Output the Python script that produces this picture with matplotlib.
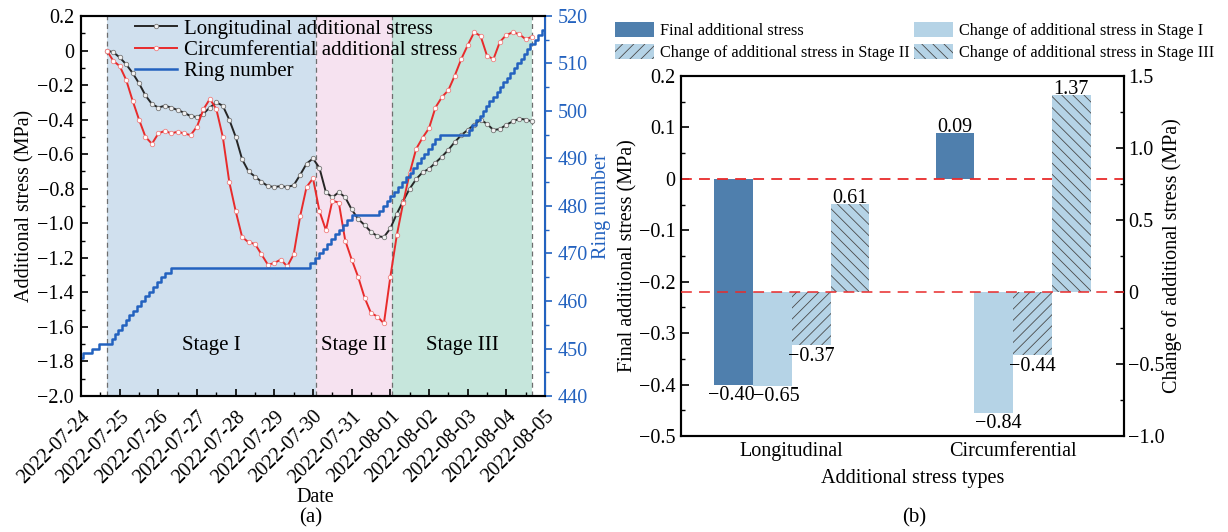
import numpy as np
import pandas as pd
import matplotlib
matplotlib.use("Agg")
import matplotlib.pyplot as plt
import matplotlib.dates as mdates
from matplotlib.ticker import MultipleLocator, FuncFormatter
from matplotlib.patches import Patch
from matplotlib.transforms import blended_transform_factory

plt.rcParams['font.family'] = ['Liberation Serif', 'DejaVu Serif']
plt.rcParams['font.size'] = 14.5
plt.rcParams['hatch.linewidth'] = 0.6

# ---- (a) monitoring time series, sampled every 4 h from 2022-07-24 16:00 ----
longitudinal = [0.00, -0.01, -0.04, -0.08, -0.13, -0.19, -0.26, -0.31, -0.33, -0.32,
                -0.33, -0.345, -0.36, -0.38, -0.385, -0.365, -0.33, -0.30, -0.32, -0.40,
                -0.50, -0.63, -0.70, -0.73, -0.76, -0.785, -0.79, -0.785, -0.79, -0.78,
                -0.72, -0.655, -0.625, -0.68, -0.82, -0.85, -0.82, -0.85, -0.92, -0.975,
                -1.01, -1.05, -1.075, -1.08, -1.03, -0.945, -0.87, -0.80, -0.745, -0.705,
                -0.685, -0.65, -0.615, -0.575, -0.53, -0.49, -0.46, -0.43, -0.40, -0.425,
                -0.46, -0.455, -0.43, -0.41, -0.395, -0.40, -0.41]
circumferential = [0.00, -0.06, -0.09, -0.17, -0.29, -0.40, -0.50, -0.54, -0.48, -0.465,
                   -0.48, -0.47, -0.48, -0.49, -0.44, -0.34, -0.28, -0.34, -0.50, -0.76,
                   -0.93, -1.08, -1.11, -1.12, -1.18, -1.24, -1.23, -1.21, -1.25, -1.18,
                   -0.96, -0.79, -0.74, -0.93, -1.04, -0.87, -0.88, -1.10, -1.21, -1.31,
                   -1.43, -1.52, -1.54, -1.58, -1.31, -1.07, -0.88, -0.71, -0.57, -0.505,
                   -0.45, -0.33, -0.27, -0.23, -0.145, -0.05, 0.03, 0.105, 0.085, -0.03,
                   -0.05, 0.05, 0.09, 0.105, 0.095, 0.065, 0.08]

# ring number: hours since 2022-07-24 00:00 at which each new ring was reached
ring_hours = [0, 1, 7, 11,
              19, 21, 23, 25.5, 28, 30, 32.5, 35, 37.5, 40, 42, 44.5, 47, 49.5, 52, 56,
              142, 145, 147.5, 150, 152.5, 155, 157.5, 160, 162.5, 165, 168,
              185, 187.5, 190, 192, 194.5, 197, 199, 201.5, 204, 206, 208.5, 211, 213,
              215.5, 218, 220, 223,
              241, 243, 245, 247.5, 249.5, 251.5, 253.5, 256, 258, 260, 262, 264.5,
              266.5, 268.5, 270.5, 273, 275, 277, 279, 281.5, 283.5, 286, 288]
ring_values = [448, 449, 450, 451,
               452, 453, 454, 455, 456, 457, 458, 459, 460, 461, 462, 463, 464, 465, 466, 467,
               468, 469, 470, 471, 472, 473, 474, 475, 476, 477, 478,
               479, 480, 481, 482, 483, 484, 485, 486, 487, 488, 489, 490, 491,
               492, 493, 494, 495,
               496, 497, 498, 499, 500, 501, 502, 503, 504, 505, 506, 507,
               508, 509, 510, 511, 512, 513, 514, 515, 516, 517, 517]

stage_names = ['Stage I', 'Stage II', 'Stage III']
stage_edges = ['2022-07-24 16:00', '2022-07-30 02:00', '2022-08-01 01:00', '2022-08-04 16:00']
stage_colors = ['#d0e0ee', '#f6e2f0', '#c6e6dc']

# ---- (b) additional stress summary ----
stress_types = ['Longitudinal', 'Circumferential']
final_stress = [-0.40, 0.09]
change_stage1 = [-0.65, -0.84]
change_stage2 = [-0.37, -0.44]
change_stage3 = [0.61, 1.37]

BLUE = '#2362bf'
RED = '#e82b2b'
DARK_BAR = '#4f7fad'
LIGHT_BAR = '#b5d3e6'


def one_decimal(v, pos):
    if abs(v) < 1e-9:
        return '0'
    return f'{v:.1f}'.replace('-', '\u2212')


fig = plt.figure(figsize=(12.28, 5.32), dpi=100)

# ================= (a) =================
ax = fig.add_axes([0.066, 0.2556, 0.3778, 0.7144])
axr = ax.twinx()

t_stress = pd.date_range('2022-07-24 16:00', periods=len(longitudinal), freq='4h')
t_ring = pd.Timestamp('2022-07-24') + pd.to_timedelta(ring_hours, unit='h')
edges = pd.to_datetime(stage_edges)

for i, name in enumerate(stage_names):
    ax.axvspan(edges[i], edges[i + 1], color=stage_colors[i], lw=0, zorder=0)
    mid = edges[i] + (edges[i + 1] - edges[i]) / 2
    ax.text(mid, -1.71, name, ha='center', va='center', fontsize=15)
for e in edges:
    ax.axvline(e, color='#6e6e6e', ls=(0, (4, 3)), lw=0.9, zorder=1)

l1, = ax.plot(t_stress, longitudinal, color='#262626', lw=1.4, marker='o', ms=3.2,
              mfc='#f2f2f2', mec='#777777', mew=0.6, zorder=3,
              label='Longitudinal additional stress')
l2, = ax.plot(t_stress, circumferential, color=RED, lw=1.4, marker='o', ms=3.2,
              mfc='white', mec='#f08080', mew=0.6, zorder=3,
              label='Circumferential additional stress')
l3, = axr.step(t_ring, ring_values, where='post', color=BLUE, lw=1.8, label='Ring number')

ax.set_xlim(pd.Timestamp('2022-07-24'), pd.Timestamp('2022-08-05'))
ax.set_ylim(-2.0, 0.2)
axr.set_ylim(440, 520)

ax.xaxis.set_major_locator(mdates.DayLocator())
ax.xaxis.set_minor_locator(mdates.HourLocator(byhour=[12]))
ax.xaxis.set_major_formatter(mdates.DateFormatter('%Y-%m-%d'))
ax.yaxis.set_major_locator(MultipleLocator(0.2))
ax.yaxis.set_minor_locator(MultipleLocator(0.1))
ax.yaxis.set_major_formatter(FuncFormatter(one_decimal))
ax.tick_params(axis='both', which='both', direction='in', top=False, right=False)
ax.tick_params(axis='both', which='major', length=5, width=1.2, pad=5)
ax.tick_params(axis='both', which='minor', length=3, width=1.0)
plt.setp(ax.get_xticklabels(), rotation=45, ha='right', va='top', rotation_mode='anchor')
ax.tick_params(axis='x', which='major', pad=8)

axr.yaxis.set_major_locator(MultipleLocator(10))
axr.yaxis.set_minor_locator(MultipleLocator(5))
axr.tick_params(axis='y', which='both', direction='out', colors=BLUE)
axr.tick_params(axis='y', which='major', length=5, width=1.2, pad=4)
axr.tick_params(axis='y', which='minor', length=3, width=1.0)
axr.spines['right'].set_color(BLUE)
axr.spines['right'].set_linewidth(1.5)
for side in ['left', 'bottom', 'top']:
    ax.spines[side].set_linewidth(1.5)
    axr.spines[side].set_linewidth(1.5)

ax.set_ylabel('Additional stress (MPa)', labelpad=2)
axr.set_ylabel('Ring number', color=BLUE, labelpad=3)
ax.set_xlabel('Date')
ax.xaxis.set_label_coords(0.505, -0.242)

axr.legend(handles=[l1, l2, l3], loc='upper left', bbox_to_anchor=(0.116, 0.992),
           frameon=False, fontsize=15, borderpad=0, borderaxespad=0,
           handlelength=2.0, handletextpad=0.35, labelspacing=0.08)

fig.text(0.253, 1 - 518 / 532, '(a)', ha='center', va='center', fontsize=15)

# ================= (b) =================
bx = fig.add_axes([0.5546, 0.1805, 0.3607, 0.6765])
bxr = bx.twinx()

x = np.arange(len(stress_types))
w = 0.175
b0 = bx.bar(x - 1.5 * w, final_stress, w, color=DARK_BAR, lw=0)
b1 = bxr.bar(x - 0.5 * w, change_stage1, w, color=LIGHT_BAR, lw=0)
b2 = bxr.bar(x + 0.5 * w, change_stage2, w, color=LIGHT_BAR, edgecolor='#4a4a4a',
             lw=0, hatch='///')
b3 = bxr.bar(x + 1.5 * w, change_stage3, w, color=LIGHT_BAR, edgecolor='#4a4a4a',
             lw=0, hatch='\\\\\\')

bx.set_xlim(-0.5, 1.5)
bx.set_ylim(-0.5, 0.2)
bxr.set_ylim(-1.0, 1.5)

bx.axhline(0, color=RED, ls=(0, (6, 4)), lw=1.3, zorder=4)
bxr.plot([0, 1], [0, 0], transform=blended_transform_factory(bxr.transAxes, bxr.transData),
         color=RED, ls=(0, (6, 4)), lw=1.3, zorder=4, alpha=0.85)


def fmt2(v):
    return f'{v:.2f}'.replace('-', '\u2212')


# small sideways nudges keep neighbouring labels from running together
for bars, axis, dx in [(b0, bx, -2), (b1, bxr, 3), (b2, bxr, 0), (b3, bxr, 0)]:
    for rect in bars:
        v = rect.get_height()
        cx = rect.get_x() + rect.get_width() / 2
        if v >= 0:
            axis.annotate(fmt2(v), (cx, v), xytext=(0, -3), textcoords='offset points',
                          ha='center', va='bottom', fontsize=14.5)
        else:
            axis.annotate(fmt2(v), (cx, v), xytext=(dx, -1), textcoords='offset points',
                          ha='center', va='top', fontsize=14.5)

bx.set_xticks(x)
bx.set_xticklabels(stress_types)
bx.tick_params(axis='x', length=0, pad=4)
bx.yaxis.set_major_locator(MultipleLocator(0.1))
bx.yaxis.set_minor_locator(MultipleLocator(0.05))
bx.yaxis.set_major_formatter(FuncFormatter(one_decimal))
bx.tick_params(axis='y', which='both', direction='in')
bx.tick_params(axis='y', which='major', length=6, width=1.2, pad=4)
bx.tick_params(axis='y', which='minor', length=3, width=1.0)

bxr.yaxis.set_major_locator(MultipleLocator(0.5))
bxr.yaxis.set_minor_locator(MultipleLocator(0.25))
bxr.yaxis.set_major_formatter(FuncFormatter(one_decimal))
bxr.tick_params(axis='y', which='both', direction='in')
bxr.tick_params(axis='y', which='major', length=6, width=1.2, pad=3)
bxr.tick_params(axis='y', which='minor', length=3, width=1.0)
for side in ['left', 'right', 'bottom', 'top']:
    bx.spines[side].set_linewidth(1.5)
    bxr.spines[side].set_linewidth(1.5)

bx.set_ylabel('Final additional stress (MPa)', labelpad=1)
bxr.set_ylabel('Change of additional stress (MPa)', labelpad=-2)
bx.set_xlabel('Additional stress types')
bx.xaxis.set_label_coords(0.5225, -0.092)

handles = [Patch(facecolor=DARK_BAR, lw=0),
           Patch(facecolor=LIGHT_BAR, edgecolor='#4a4a4a', lw=0, hatch='///'),
           Patch(facecolor=LIGHT_BAR, lw=0),
           Patch(facecolor=LIGHT_BAR, edgecolor='#4a4a4a', lw=0, hatch='\\\\\\')]
labels = ['Final additional stress',
          'Change of additional stress in Stage II',
          'Change of additional stress in Stage I',
          'Change of additional stress in Stage III']
fig.legend(handles, labels, loc='upper left', bbox_to_anchor=(615 / 1228, 1 - 22 / 532),
           ncol=2, frameon=False, fontsize=11.7, borderpad=0, borderaxespad=0,
           handlelength=2.4, handleheight=1.05, handletextpad=0.35,
           columnspacing=0.3, labelspacing=0.3)

fig.text(914 / 1228, 1 - 518 / 532, '(b)', ha='center', va='center', fontsize=15)

fig.savefig('out.png', dpi=100)
